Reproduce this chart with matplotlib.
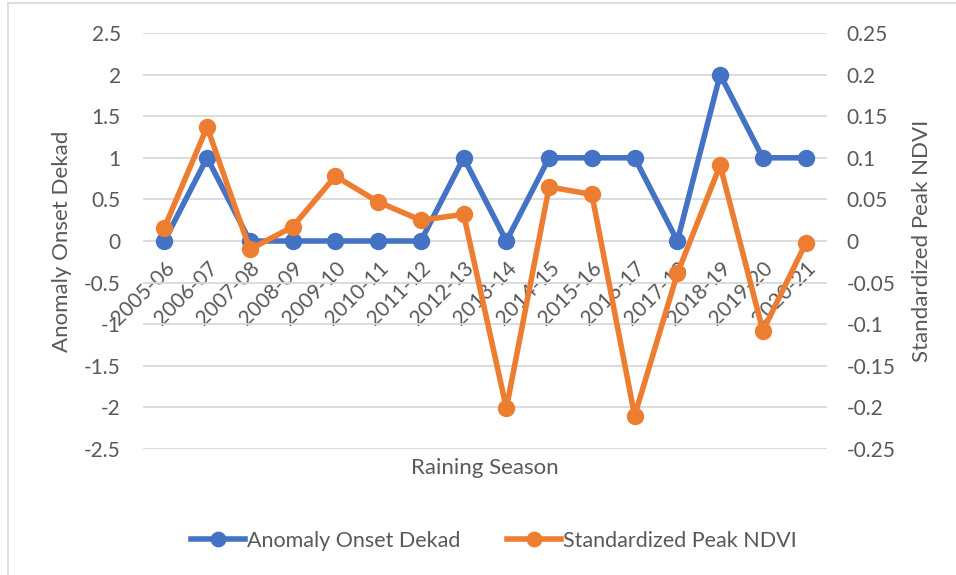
import matplotlib.pyplot as plt
from matplotlib.ticker import FixedLocator, FuncFormatter
from matplotlib.patches import Rectangle

seasons = ['2005-06', '2006-07', '2007-08', '2008-09', '2009-10', '2010-11',
           '2011-12', '2012-13', '2013-14', '2014-15', '2015-16', '2016-17',
           '2017-18', '2018-19', '2019-20', '2020-21']
onset_anomaly = [0, 1, 0, 0, 0, 0, 0, 1, 0, 1, 1, 1, 0, 2, 1, 1]
peak_ndvi = [0.016, 0.137, -0.010, 0.017, 0.078, 0.047, 0.025, 0.032,
             -0.201, 0.065, 0.056, -0.210, -0.039, 0.091, -0.108, -0.003]
left_ticks = [-2.5, -2, -1.5, -1, -0.5, 0, 0.5, 1, 1.5, 2, 2.5]
right_ticks = [-0.25, -0.2, -0.15, -0.1, -0.05, 0, 0.05, 0.1, 0.15, 0.2, 0.25]

plt.rcParams['font.family'] = ['Lato', 'DejaVu Sans']
txt = '#595959'
blue = '#4472C4'
orange = '#ED7D31'

fig = plt.figure(figsize=(9.56, 5.75), dpi=100)
W, H = 956, 575
# chart border (Excel chart area)
fig.patches.append(Rectangle((8 / W, -0.1), 1.2, 1 - 3 / H + 0.1, transform=fig.transFigure,
                             fill=False, edgecolor='#d9d9d9', lw=1.2))

ax = fig.add_axes([143 / W, 1 - 449 / H, 684 / W, 416 / H])
ax2 = ax.twinx()

x = list(range(len(seasons)))
ax.plot(x, onset_anomaly, color=blue, lw=4, marker='o', ms=11.5, label='Anomaly Onset Dekad',
        solid_joinstyle='round', zorder=3)
ax2.plot(x, peak_ndvi, color=orange, lw=4, marker='o', ms=11.5, label='Standardized Peak NDVI',
         solid_joinstyle='round', zorder=3)

ax.set_xlim(-0.5, len(seasons) - 0.5)
ax.set_ylim(-2.5, 2.5)
ax2.set_ylim(-0.25, 0.25)
ax.yaxis.set_major_locator(FixedLocator(left_ticks))
ax2.yaxis.set_major_locator(FixedLocator(right_ticks))
fmt = FuncFormatter(lambda v, p: '%g' % v)
ax.yaxis.set_major_formatter(fmt)
ax2.yaxis.set_major_formatter(fmt)

ax.grid(axis='y', color='#d9d9d9', lw=1.3)
ax.set_axisbelow(True)
for a in (ax, ax2):
    for s in a.spines.values():
        s.set_visible(False)
ax.spines['bottom'].set_position(('data', 0))

ax.set_xticks(x)
ax.set_xticklabels(seasons, rotation=45, ha='right', rotation_mode='anchor')
ax.tick_params(axis='x', length=0, pad=12, labelsize=15, labelcolor=txt)
ax.tick_params(axis='y', length=0, pad=16, labelsize=15, labelcolor=txt)
ax2.tick_params(axis='y', length=0, pad=14, labelsize=15, labelcolor=txt)

fig.text(62 / W, 1 - 241 / H, 'Anomaly Onset Dekad', rotation=90, ha='center', va='center',
         fontsize=16, color=txt)
fig.text(922 / W, 1 - 241 / H, 'Standardized Peak NDVI', rotation=90, ha='center', va='center',
         fontsize=16, color=txt)
fig.text(485 / W, 1 - 468 / H, 'Raining Season', ha='center', va='center', fontsize=16, color=txt)

h1, l1 = ax.get_legend_handles_labels()
h2, l2 = ax2.get_legend_handles_labels()
fig.legend(h1 + h2, l1 + l2, loc='center', bbox_to_anchor=(494 / W, 1 - 541 / H), ncol=2,
           frameon=False, fontsize=15.5, labelcolor=txt, handlelength=2.5, handletextpad=0.1,
           columnspacing=2.2, markerscale=0.9)

fig.savefig('out.png', dpi=100)
